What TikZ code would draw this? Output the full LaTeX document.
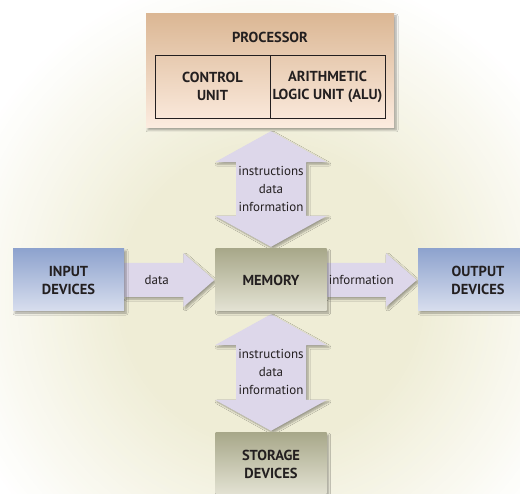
\documentclass[tikz,border=0pt]{standalone}
\usepackage{fontspec}
\setmainfont{PT Sans}
\usetikzlibrary{calc,shadows.blur}

\definecolor{haloc}{RGB}{239,237,214}
\definecolor{procTop}{RGB}{219,183,148}
\definecolor{procBot}{RGB}{252,236,224}
\definecolor{devTop}{RGB}{142,163,206}
\definecolor{devBot}{RGB}{216,222,238}
\definecolor{memTop}{RGB}{168,168,138}
\definecolor{memBot}{RGB}{228,227,212}
\definecolor{pipe}{RGB}{221,215,234}
\definecolor{ink}{RGB}{35,31,32}

\pgfdeclarelayer{bg}
\pgfsetlayers{bg,main}

\tikzset{
  shade/.style={blur shadow={shadow xshift=2pt,shadow yshift=-2pt,
      shadow blur steps=6,shadow opacity=35}},
  unitbox/.style={shade,inner sep=0pt,align=center,text=ink,
      font=\fontsize{14.5}{18}\selectfont\bfseries,
      minimum width=111pt,minimum height=62pt},
  devbox/.style={unitbox,top color=devTop,bottom color=devBot},
  membox/.style={unitbox,top color=memTop,bottom color=memBot},
  cell/.style={draw=ink,line width=0.9pt,inner sep=0pt,align=center,text=ink,
      font=\fontsize{14.5}{18}\selectfont\bfseries,
      minimum width=115pt,minimum height=63pt},
  fat/.style={fill=pipe,shade},
  lbl/.style={inner sep=0pt,align=center,text=ink,
      font=\fontsize{13}{18}\selectfont}
}

\begin{document}
\begin{tikzpicture}[x=1pt,y=-1pt]
  \path[use as bounding box,clip] (0,0) rectangle (520,494);

  % processor with its two parts
  \node[shade,top color=procTop,bottom color=procBot,
        minimum width=248pt,minimum height=114pt] (proc) at (270,71) {};
  \node[text=ink,font=\fontsize{14.5}{18}\selectfont\bfseries] (ptitle) at (270,37) {PROCESSOR};
  \node[cell] (cu) at (212.5,86.5) {CONTROL\\UNIT};
  \node[cell] (alu) at (327.5,86.5) {ARITHMETIC\\LOGIC UNIT (ALU)};

  % memory and devices
  \node[membox] (mem) at (271,280) {MEMORY};
  \node[devbox] (inp) at (68.5,280) {INPUT\\DEVICES};
  \node[devbox,minimum width=120pt] (out) at (478,280) {OUTPUT\\DEVICES};
  \node[membox] (stor) at (271,464) {STORAGE\\DEVICES};

  \begin{pgfonlayer}{bg}
    \fill[white] (0,0) rectangle (520,494);
    \foreach \r [evaluate=\r as \p using {min(100,(330-\r)/1.8)}] in {330,326,...,140}
      \fill[haloc!\p!white] (271,295) circle (\r);

    % two-way arrows
    \foreach \a/\b in {proc/mem,mem/stor}{
      \coordinate (top) at (\a.south -| \b.north);
      \fill[fat] ($(top)+(0,3)$) -- ++(56,31) -- ++(-21,0)
        -- ($(\b.north)+(35,-33)$) -- ++(21,0) -- ($(\b.north)+(0,-2)$)
        -- ++(-56,-31) -- ++(21,0) -- ($(top)+(-35,34)$) -- ++(-21,0) -- cycle;
    }

    % one-way arrows
    \foreach \a/\b in {inp/mem,mem/out}{
      \fill[fat] ($(\a.east)+(0,-17)$) -- ($(\b.west)+(-32,-17)$) -- ++(0,-10)
        -- ($(\b.west)+(-1,0)$) -- ++(-31,27) -- ++(0,-10)
        -- ($(\a.east)+(0,17)$) -- cycle;
    }
  \end{pgfonlayer}

  \node[lbl] (tup) at ($(proc.south -| mem.north)!0.5!(mem.north)$) {instructions\\data\\information};
  \node[lbl] (tdn) at ($(mem.south)!0.5!(stor.north)$) {instructions\\data\\information};
  \node[lbl] (tin) at ($(inp.east)!0.5!(mem.west)+(-13,0)$) {data};
  \node[lbl] (tout) at ($(mem.east)!0.5!(out.west)+(-11,0)$) {information};
\end{tikzpicture}
\end{document}
